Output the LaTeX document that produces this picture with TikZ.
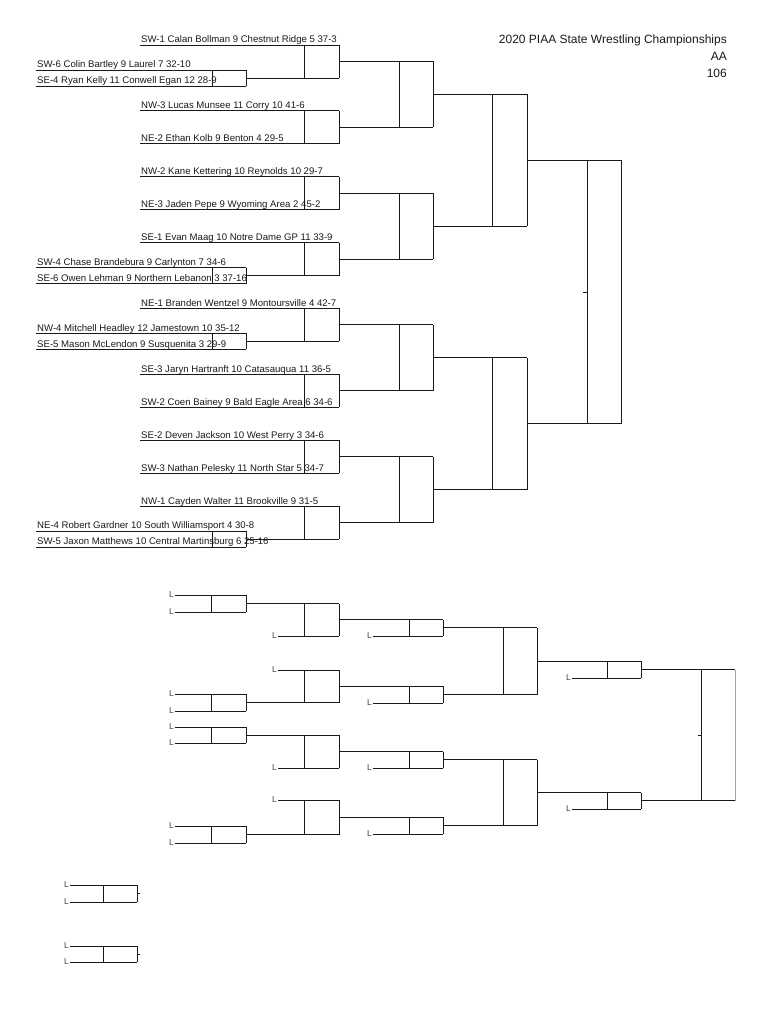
\documentclass[tikz,border=0pt]{standalone}
\usepackage{fontspec}
\setmainfont{Liberation Sans}
\begin{document}
\begin{tikzpicture}[x=1pt,y=-1pt,
  br/.style={draw=black!90, line width=0.9pt},
  entry/.style={font=\fontsize{9.6}{11}\selectfont, anchor=base west, inner sep=0pt, text=black!90},
  lbl/.style={font=\fontsize{8.5}{9}\selectfont, anchor=base east, inner sep=0pt, text=black!75},
  ttl/.style={font=\fontsize{12}{14}\selectfont, anchor=base east, inner sep=0pt, text=black!90}]
\useasboundingbox (0,0) rectangle (768,1024);
% ---------- title ----------
\node[ttl] (t1) at (727,43.5) {2020 PIAA State Wrestling Championships};
\node[ttl] (t2) at (727,60.5) {AA};
\node[ttl] (t3) at (727,77.5) {106};
% ---------- championship bracket: round 1 boxes ----------
\foreach \t/\b in {45/78, 110.9/143.9, 176.7/209.7, 242.6/275.6, 308.4/341.4, 374.3/407.3, 440.2/473.2, 506/539}{
  \draw[br] (140,\t) -- (339,\t);
  \draw[br] (304,\t) -- (304,\b);
  \draw[br] (339,\t) -- (339,\b);
}
% bottom lines of text entries
\foreach \b in {143.9, 209.7, 407.3, 473.2}{ \draw[br] (140,\b) -- (339,\b); }
% bottom lines from pigtails
\foreach \b in {78, 275.6, 341.4, 539}{ \draw[br] (246,\b) -- (339,\b); }
% pigtail boxes
\foreach \b in {78, 275.6, 341.4, 539}{
  \draw[br] (36,\b-8) -- (246,\b-8);
  \draw[br] (36,\b+8) -- (246,\b+8);
  \draw[br] (212,\b-8) -- (212,\b+8);
  \draw[br] (246,\b-8) -- (246,\b+8);
}
% round 2 boxes
\foreach \t/\b in {61.5/127.4, 193.2/259.1, 324.9/390.8, 456.7/522.5}{
  \draw[br] (339,\t) -- (433,\t) (339,\b) -- (433,\b);
  \draw[br] (399,\t) -- (399,\b) (433,\t) -- (433,\b);
}
% semifinal boxes
\foreach \t/\b in {94.45/226.15, 357.85/489.6}{
  \draw[br] (433,\t) -- (527,\t) (433,\b) -- (527,\b);
  \draw[br] (492,\t) -- (492,\b) (527,\t) -- (527,\b);
}
% final box
\draw[br] (527,160.3) -- (621,160.3) (527,423.7) -- (621,423.7);
\draw[br] (587,160.3) -- (587,423.7) (621,160.3) -- (621,423.7);
\draw[br] (583,292) -- (587,292);
% ---------- entries ----------
\node[entry] (w1) at (141,43) {SW-1 Calan Bollman 9 Chestnut Ridge 5 37-3};
\node[entry] (w2) at (37,67.6) {SW-6 Colin Bartley 9 Laurel 7 32-10};
\node[entry] (w3) at (37,83.6) {SE-4 Ryan Kelly 11 Conwell Egan 12 28-9};
\node[entry] (w4) at (141,108.9) {NW-3 Lucas Munsee 11 Corry 10 41-6};
\node[entry] (w5) at (141,141.9) {NE-2 Ethan Kolb 9 Benton 4 29-5};
\node[entry] (w6) at (141,174.7) {NW-2 Kane Kettering 10 Reynolds 10 29-7};
\node[entry] (w7) at (141,207.7) {NE-3 Jaden Pepe 9 Wyoming Area 2 45-2};
\node[entry] (w8) at (141,240.6) {SE-1 Evan Maag 10 Notre Dame GP 11 33-9};
\node[entry] (w9) at (37,265.2) {SW-4 Chase Brandebura 9 Carlynton 7 34-6};
\node[entry] (w10) at (37,281.2) {SE-6 Owen Lehman 9 Northern Lebanon 3 37-16};
\node[entry] (w11) at (141,306.4) {NE-1 Branden Wentzel 9 Montoursville 4 42-7};
\node[entry] (w12) at (37,331) {NW-4 Mitchell Headley 12 Jamestown 10 35-12};
\node[entry] (w13) at (37,347) {SE-5 Mason McLendon 9 Susquenita 3 29-9};
\node[entry] (w14) at (141,372.3) {SE-3 Jaryn Hartranft 10 Catasauqua 11 36-5};
\node[entry] (w15) at (141,405.3) {SW-2 Coen Bainey 9 Bald Eagle Area 6 34-6};
\node[entry] (w16) at (141,438.2) {SE-2 Deven Jackson 10 West Perry 3 34-6};
\node[entry] (w17) at (141,471.2) {SW-3 Nathan Pelesky 11 North Star 5 34-7};
\node[entry] (w18) at (141,504) {NW-1 Cayden Walter 11 Brookville 9 31-5};
\node[entry] (w19) at (37,528.6) {NE-4 Robert Gardner 10 South Williamsport 4 30-8};
\node[entry] (w20) at (37,544.6) {SW-5 Jaxon Matthews 10 Central Martinsburg 6 25-16};
% ---------- consolation bracket ----------
% first-round pigtails (two L entries)
\foreach \a/\c [count=\i] in {595/612, 694/711, 727/743, 826/843}{
  \draw[br] (175,\a) -- (246,\a) (175,\c) -- (246,\c);
  \draw[br] (211,\a) -- (211,\c) (246,\a) -- (246,\c);
  \node[lbl] (pa\i) at (174,\a+2.5) {L};
  \node[lbl] (pc\i) at (174,\c+2.5) {L};
}
% second round (x 304-339): top/bottom line start and L position
\foreach \t/\ts/\b/\bs/\ly [count=\i] in {603.5/246/636/278/636, 670/278/702.5/246/670, 735/246/768/278/768, 800/278/834.5/246/800}{
  \draw[br] (\ts,\t) -- (339,\t) (\bs,\b) -- (339,\b);
  \draw[br] (304,\t) -- (304,\b) (339,\t) -- (339,\b);
  \node[lbl] (q\i) at (277,\ly+2.5) {L};
}
% third round (x 409-443)
\foreach \t/\b [count=\i] in {619.75/636, 686.25/703, 751.5/768, 817.25/834}{
  \draw[br] (339,\t) -- (443,\t) (373,\b) -- (443,\b);
  \draw[br] (409,\t) -- (409,\b) (443,\t) -- (443,\b);
  \node[lbl] (r\i) at (372,\b+2.5) {L};
}
% fourth round (x 503-537)
\foreach \t/\b in {627.9/694.6, 759.75/825.6}{
  \draw[br] (443,\t) -- (537,\t) (443,\b) -- (537,\b);
  \draw[br] (503,\t) -- (503,\b) (537,\t) -- (537,\b);
}
% fifth round (x 607-641)
\foreach \t/\b [count=\i] in {661.25/678, 792.7/809}{
  \draw[br] (537,\t) -- (641,\t) (572,\b) -- (641,\b);
  \draw[br] (607,\t) -- (607,\b) (641,\t) -- (641,\b);
  \node[lbl] (s\i) at (571,\b+2.5) {L};
}
% consolation final (x 701-735)
\draw[br] (641,669.6) -- (735,669.6) (641,800.9) -- (735,800.9);
\draw[br] (701,669.6) -- (701,800.9);
\draw[draw=black!35, line width=0.8pt] (735,669.6) -- (735,800.9);
\draw[br] (698,735) -- (701,735);
% ---------- placement bouts ----------
\foreach \a/\c [count=\i] in {885/902, 946/962}{
  \draw[br] (70,\a) -- (137,\a) (70,\c) -- (137,\c);
  \draw[br] (103,\a) -- (103,\c) (137,\a) -- (137,\c);
  \draw[br] (137,{(\a+\c)/2}) -- (140,{(\a+\c)/2});
  \node[lbl] (ua\i) at (69,\a+2.5) {L};
  \node[lbl] (uc\i) at (69,\c+2.5) {L};
}
\end{tikzpicture}
\end{document}
